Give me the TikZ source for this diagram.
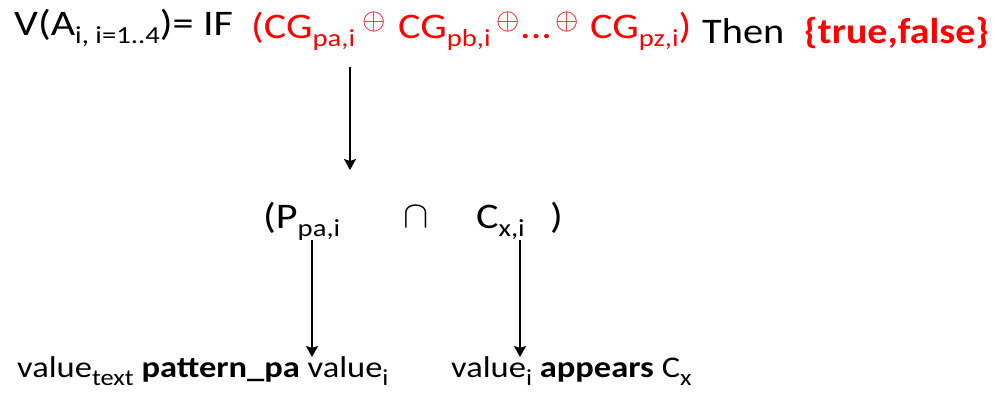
\documentclass[tikz,border=0pt]{standalone}
\usepackage{fontspec}
\setmainfont{Carlito}
\usetikzlibrary{arrows.meta}
\newcommand\sx[1]{\scalebox{1.17}[1]{#1}}
\newcommand\sbs[1]{\raisebox{-8pt}{\fontsize{24.5}{25}\selectfont #1}}
\newcommand\sbb[1]{\raisebox{-8pt}{\fontsize{23}{23}\selectfont #1}}
\newcommand\opl{\fontsize{10}{12}\selectfont\scalebox{3.0}{$\oplus$}}
\newcommand\capsym{\fontsize{10}{12}\selectfont\scalebox{3.8}{$\cap$}}
\tikzset{
  big/.style={inner sep=0pt, anchor=base west, font=\fontsize{36}{40}\selectfont},
  small/.style={inner sep=0pt, anchor=base west, font=\fontsize{30}{36}\selectfont},
  symb/.style={inner sep=0pt, anchor=center},
  hl/.style={text=red},
  arr/.style={line width=1.6pt, -{Stealth[length=11pt,width=12pt,inset=2pt]}}
}
\begin{document}
\begin{tikzpicture}[x=1pt,y=-1pt]
\useasboundingbox (0,0) rectangle (995,394);
% top line
\node[big] (v) at (14,35) {\sx{V(A\sbs{i, i=1..4})= IF}};
\node[big,hl] (cga) at (251,38) {\sx{(CG\sbs{pa,i}}};
\node[symb,hl] (o1) at (374,22) {\opl};
\node[big,hl] (cgb) at (398,38) {\sx{CG\sbs{pb,i}}};
\node[symb,hl] (o2) at (508,22) {\opl};
\node[big,hl] (dots) at (520,38) {\sx{...}};
\node[symb,hl] (o3) at (567,22) {\opl};
\node[big,hl] (cgz) at (590,38) {\sx{CG\sbs{pz,i})}};
\node[big] (then) at (702,43) {\scalebox{1.12}[1]{Then}};
\node[big,hl] (tf) at (804,43) {\scalebox{1.11}[1]{\bfseries\{true,false\}}};
% middle line
\node[big] (p) at (263,228) {\sx{(P\sbs{pa,i}}};
\node[symb] (cap) at (416,217) {\capsym};
\node[big] (c) at (476,228) {\sx{C\sbs{x,i}}};
\node[big] (rp) at (550,228) {\sx{)}};
% bottom line
\node[small] (b1) at (17,377) {\scalebox{1.15}[1]{value\sbb{text} \textbf{pattern\_pa} value\sbb{i}}};
\node[small] (b2) at (451,377) {\scalebox{1.15}[1]{value\sbb{i} \textbf{appears} C\sbb{x}}};
% arrow ends
\coordinate (t1) at (350,67);
\coordinate (t2) at (350,170);
\coordinate (l1) at (312,240);
\coordinate (l2) at (312,357);
\coordinate (r1) at (520,240);
\coordinate (r2) at (520,357);
\draw[arr] (t1) -- (t2);
\draw[arr] (l1) -- (l2);
\draw[arr] (r1) -- (r2);
\end{tikzpicture}
\end{document}
